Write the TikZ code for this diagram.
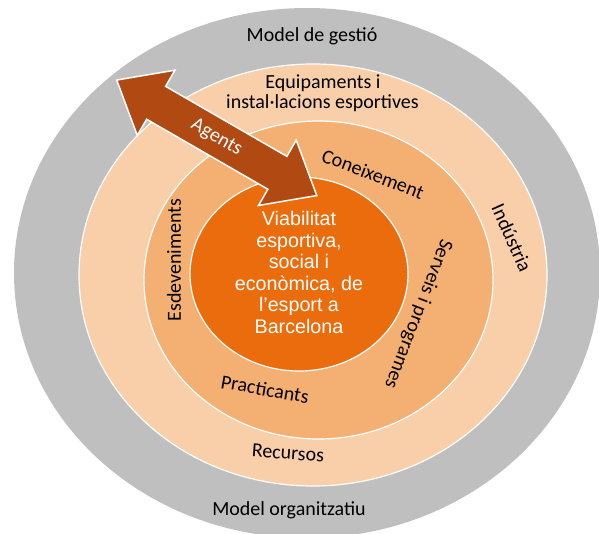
\documentclass[tikz,border=0pt]{standalone}
\usepackage{fontspec}
\setmainfont{Carlito}
\newfontfamily\corefont{Liberation Sans}
\usetikzlibrary{calc}
\definecolor{ringgray}{HTML}{BFBFBF}
\definecolor{ringlight}{HTML}{F9CFAA}
\definecolor{ringmid}{HTML}{F4AF72}
\definecolor{ringcore}{HTML}{EB6C0C}
\definecolor{agentbrown}{HTML}{B04A12}
\tikzset{
ring/.style={draw=white, line width=1.2pt}, % thin white rim on each ring
lbl/.style={inner sep=0pt, font=\fontsize{20}{22}\selectfont},
corelbl/.style={inner sep=0pt, align=center, text=white, font=\corefont\fontsize{19.7}{21.5}\selectfont},
}

\begin{document}
\begin{tikzpicture}[x=1pt, y=-1pt]%pixel-like units, y down
  \useasboundingbox (0,0) rectangle (599,533);

  % rings, outside in
  \fill[ringgray] (307,273) ellipse [x radius=293, y radius=265];
  \filldraw[ring, fill=ringlight] (313,275) ellipse [x radius=234, y radius=211];
  \filldraw[ring, fill=ringmid] (318.5,280) ellipse [x radius=174.5, y radius=159];
  \filldraw[ring, fill=ringcore] (299,274) ellipse [x radius=109, y radius=97];

  % double arrow for the agents
  \begin{scope}[shift={(216.75,137.8)}, rotate=-30]
    \filldraw[draw=white, line width=1.5pt, fill=agentbrown]
    (-115.5,0) -- (-70,-37.7) -- (-70,-19) -- (70,-19) -- (70,-37.7) -- (115.5,0)
    -- (70,37.7) -- (70,19) -- (-70,19) -- (-70,37.7) -- cycle;
  \end{scope}
  \node[lbl, text=white, rotate=-30] (agents) at (216.5,137.5) {Agents};

  \node[lbl, anchor=base] (gestio) at (312,41) {Model de gestió};
  \node[lbl, anchor=base] (organitz) at (289,515) {Model organitzatiu};
  \node[lbl, anchor=base] (equip) at (323,88.5) {Equipaments i};
  \node[lbl, anchor=base] (instal) at (322.5,108.5) {instal·lacions esportives};
  \node[lbl, rotate=-21] (coneix) at (373,174) {Coneixement};
  \node[lbl, rotate=-66] (industria) at (512,238) {Indústria};
  \node[lbl, rotate=-111] (serveis) at (418,314) {Serveis i programes};
  \node[lbl, rotate=90] (esdev) at (174,260) {Esdeveniments};
  \node[lbl, rotate=-10] (practic) at (265,389) {Practicants};
  \node[lbl, rotate=-4] (recursos) at (288,453) {Recursos};

  \node[corelbl] (viab) at (299,272.5)
  {Viabilitat\\esportiva,\\social i\\econòmica, de\\l’esport a\\Barcelona};
\end{tikzpicture}
\end{document}
